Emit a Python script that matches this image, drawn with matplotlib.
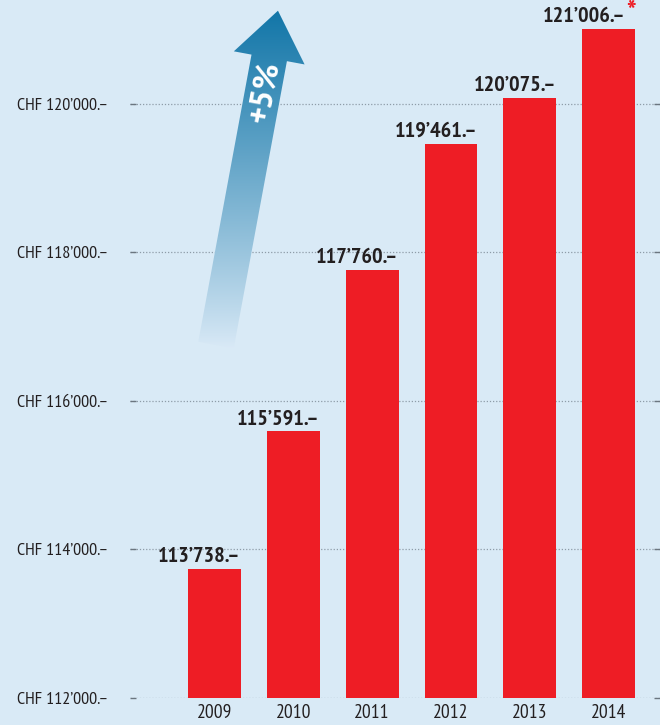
import numpy as np
import matplotlib
matplotlib.use("Agg")
import matplotlib.pyplot as plt
from matplotlib.patches import Polygon
from matplotlib import font_manager

# data
years = ["2009", "2010", "2011", "2012", "2013", "2014"]
salaries = [113738, 115591, 117760, 119461, 120075, 121006]
starred = [False, False, False, False, False, True]
yticks = [112000, 114000, 116000, 118000, 120000]

bg = "#d9eaf6"
red = "#ee1d25"
dark = "#231f20"

# condensed font like the original, fall back to DejaVu Sans if missing
have = set(f.name for f in font_manager.fontManager.ttflist)
narrow = [f for f in ["PT Sans Narrow", "Fira Sans Condensed"] if f in have]
k = 1.0 if narrow else 0.78
narrow = narrow + ["DejaVu Sans"]
plain = [f for f in ["PT Sans"] if f in have] + ["DejaVu Sans"]


def chf(v):
    s = "{:,}".format(v).replace(",", "\u2019")
    return s + ".\u2013"


fig = plt.figure(figsize=(6.6, 7.25), dpi=100, facecolor=bg)
ax = fig.add_axes([130 / 660, 27 / 725, 530 / 660, 698 / 725])
ax.set_facecolor(bg)

x = np.arange(len(years))
w = 0.67
ax.bar(x, salaries, width=w, color=red, zorder=2)

ax.set_xlim(-1.07, 5.65)
ax.set_ylim(112000, 121400)

for s in ax.spines.values():
    s.set_visible(False)

ax.set_yticks(yticks)
ax.set_yticklabels(["CHF " + chf(t) for t in yticks], family=narrow,
                   fontsize=13 * k, color=dark)
ax.tick_params(axis="y", left=True, right=True, direction="in", length=4,
               width=1, color="#6b7680", pad=15.5)
ax.grid(axis="y", linestyle=(0, (1, 1.5)), color="#8e9ca8", linewidth=0.9,
        zorder=1)
ax.set_xticks(x)
ax.set_xticklabels(years, family=narrow, fontsize=14 * k, color=dark)
ax.tick_params(axis="x", length=0, pad=4)

# value labels, right edge aligned with the bar
for xi, v, st in zip(x, salaries, starred):
    dx = 0
    if st:
        ax.annotate("*", (xi + w / 2, v), xytext=(0.5, 6),
                    textcoords="offset points", ha="right", va="baseline",
                    fontsize=21 * k, fontweight="bold", color=red,
                    family=narrow, zorder=4)
        dx = -7
    ax.annotate(chf(v), (xi + w / 2, v), xytext=(dx, 5),
                textcoords="offset points", ha="right", va="baseline",
                fontsize=16 * k, fontweight="bold", color=dark,
                family=narrow, zorder=4)

# gradient arrow "+5%" in pixel coordinates of an overlay
ov = fig.add_axes([0, 0, 1, 1], facecolor="none")
ov.axis("off")

ang = np.radians(10.5)
d = np.array([np.sin(ang), -np.cos(ang)])
n = np.array([np.cos(ang), np.sin(ang)])
base = np.array([216.0, 345.0])
shaft_len, shaft_w, head_w, head_len = 292, 36, 72, 48
top = base + d * shaft_len
tip = top + d * head_len
pts = [base - n * shaft_w / 2, base + n * shaft_w / 2,
       top + n * shaft_w / 2, top + n * head_w / 2, tip,
       top - n * head_w / 2, top - n * shaft_w / 2]
poly = Polygon(pts, closed=True, facecolor="none", edgecolor="none")
ov.add_patch(poly)

c0 = np.array([0.86, 0.92, 0.97])
c1 = np.array([0.05, 0.45, 0.65])
t = np.linspace(0, 1, 300)[:, None]
grad = c0 + (c1 - c0) * t ** 0.9
img = np.repeat(grad[:, None, :], 2, axis=1)
im = ov.imshow(img, extent=(180, 320, 350, 0), origin="lower", aspect="auto",
               interpolation="bilinear", zorder=3)
im.set_clip_path(poly)
ov.set_xlim(0, 660)
ov.set_ylim(725, 0)

ov.text(265, 92, "+5%", rotation=79.5, color="white", fontsize=23 * k,
        fontweight="bold", ha="center", va="center", family=plain,
        zorder=4)

fig.savefig("out.png", dpi=100, facecolor=bg)
